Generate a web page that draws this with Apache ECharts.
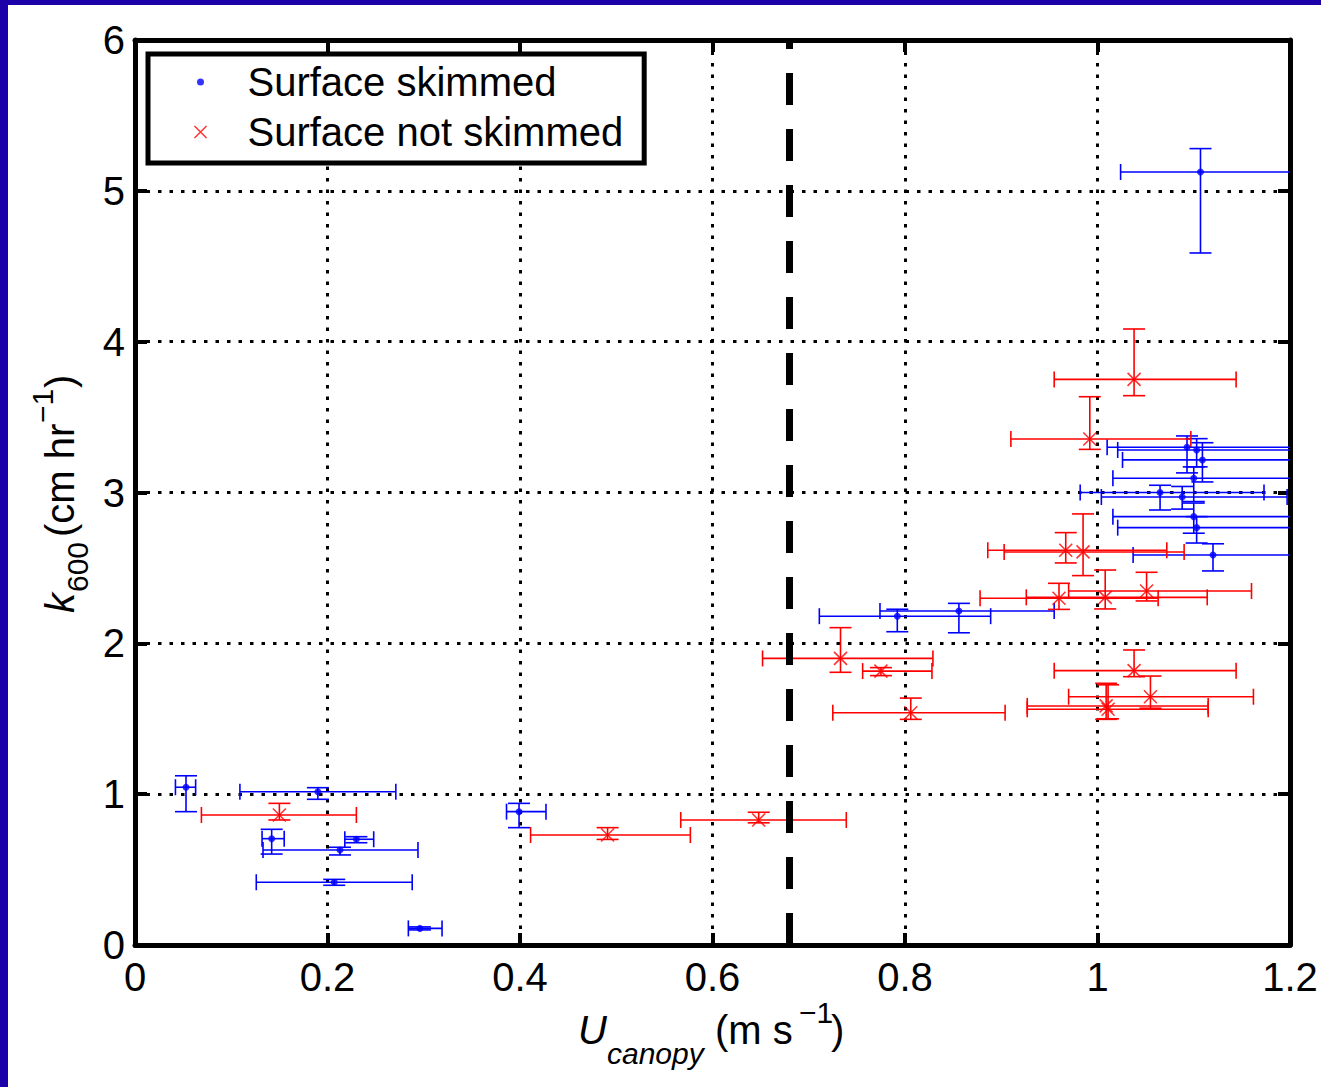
<!DOCTYPE html>
<html>
<head>
<meta charset="utf-8">
<script src="https://cdn.jsdelivr.net/npm/echarts@6/dist/echarts.min.js"></script>
<style>
html,body{margin:0;padding:0;background:#fff;}
#chart{width:1321px;height:1087px;}
</style>
</head>
<body>
<div id="chart"></div>
<script>
// ---- Data ----
const xTickLabels = ['0', '0.2', '0.4', '0.6', '0.8', '1', '1.2'];
const yTickLabels = ['0', '1', '2', '3', '4', '5', '6'];

// Surface skimmed (blue)
const skimU   = [0.053, 0.190, 0.142, 0.230, 0.213, 0.207, 0.296, 0.399, 0.792, 0.856, 1.093, 1.103, 1.109, 1.100, 1.065, 1.088, 1.100, 1.103, 1.120, 1.107];
const skimK   = [1.046, 1.016, 0.705, 0.701, 0.630, 0.416, 0.110, 0.884, 2.180, 2.214, 3.300, 3.282, 3.216, 3.094, 3.000, 2.970, 2.840, 2.767, 2.586, 5.125];
const skimUlo = [0.042, 0.109, 0.132, 0.218, 0.133, 0.126, 0.284, 0.386, 0.711, 0.774, 1.010, 1.021, 1.026, 1.016, 0.982, 1.004, 1.016, 1.021, 1.037, 1.024];
const skimUhi = [0.063, 0.271, 0.155, 0.248, 0.294, 0.288, 0.319, 0.427, 0.889, 0.955, 1.300, 1.300, 1.300, 1.300, 1.173, 1.197, 1.300, 1.300, 1.300, 1.300];
const skimKlo = [0.884, 0.966, 0.603, 0.678, 0.597, 0.396, 0.100, 0.778, 2.077, 2.070, 3.130, 3.170, 3.070, 2.940, 2.884, 2.890, 2.730, 2.665, 2.480, 4.588];
const skimKhi = [1.122, 1.043, 0.767, 0.718, 0.648, 0.435, 0.120, 0.939, 2.226, 2.265, 3.375, 3.357, 3.330, 3.170, 3.048, 3.040, 2.930, 2.840, 2.660, 5.280];

// Surface not skimmed (red)
const notU   = [0.150, 0.491, 0.648, 0.733, 0.775, 0.806, 1.038, 1.055, 1.009, 1.011, 0.960, 1.008, 1.051, 0.967, 0.985, 0.992, 1.038];
const notK   = [0.862, 0.729, 0.829, 1.900, 1.816, 1.540, 1.819, 1.646, 1.585, 1.563, 2.299, 2.305, 2.347, 2.617, 2.606, 3.355, 3.750];
const notUlo = [0.069, 0.411, 0.567, 0.652, 0.756, 0.725, 0.955, 0.970, 0.927, 0.927, 0.878, 0.926, 0.970, 0.886, 0.903, 0.910, 0.955];
const notUhi = [0.230, 0.577, 0.739, 0.829, 0.828, 0.904, 1.144, 1.162, 1.115, 1.115, 1.063, 1.114, 1.160, 1.072, 1.090, 1.097, 1.144];
const notKlo = [0.829, 0.700, 0.810, 1.808, 1.786, 1.496, 1.779, 1.570, 1.496, 1.500, 2.225, 2.228, 2.281, 2.533, 2.449, 3.286, 3.642];
const notKhi = [0.939, 0.778, 0.880, 2.104, 1.839, 1.637, 1.956, 1.783, 1.735, 1.725, 2.398, 2.486, 2.471, 2.734, 2.858, 3.635, 4.084];

// Threshold (vertical dashed line)
const thresholdU = 0.684;

// ---- Build ----
const FONT = "'Liberation Sans', Arial, Helvetica, sans-serif";
const BLUE = '#0000ff', RED = '#ff0000';

function rows(u, k, ulo, uhi, klo, khi) {
  return u.map((v, i) => [v, k[i], ulo[i], uhi[i], klo[i], khi[i]]);
}
const skimRows = rows(skimU, skimK, skimUlo, skimUhi, skimKlo, skimKhi);
const notRows = rows(notU, notK, notUlo, notUhi, notKlo, notKhi);

function errRenderer(color) {
  return function (params, api) {
    const u = api.value(0), k = api.value(1);
    const a = api.coord([api.value(2), k]);
    const b = api.coord([api.value(3), k]);
    const c = api.coord([u, api.value(4)]);
    const d = api.coord([u, api.value(5)]);
    const cw = 11, ch = 8;
    const st = { stroke: color, lineWidth: 1.6, fill: null };
    const L = (x1, y1, x2, y2) => ({ type: 'line', shape: { x1, y1, x2, y2 }, style: st });
    return {
      type: 'group',
      children: [
        L(a[0], a[1], b[0], b[1]),
        L(a[0], a[1] - ch, a[0], a[1] + ch),
        L(b[0], b[1] - ch, b[0], b[1] + ch),
        L(c[0], c[1], d[0], d[1]),
        L(c[0] - cw, c[1], c[0] + cw, c[1]),
        L(d[0] - cw, d[1], d[0] + cw, d[1])
      ]
    };
  };
}

const axisLineStyle = { show: true, onZero: false, lineStyle: { color: '#000', width: 5 } };
const tickStyle = { show: true, inside: true, length: 12, lineStyle: { color: '#000', width: 4 } };
const gridDots = { show: true, lineStyle: { color: '#000', width: 3, type: [3.5, 8] } };

const chart = echarts.init(document.getElementById('chart'), null, { renderer: 'svg', width: 1321, height: 1087 });

const xLabelY = 1044, supY = 1023, subY = 1064;
function mid(baseline, size) { return baseline - 0.35 * size; }

const option = {
  backgroundColor: '#fff',
  animation: false,
  grid: { left: 135, top: 40, right: 31, bottom: 142, containLabel: false },
  xAxis: [
    {
      type: 'value', min: 0, max: 1.2, interval: 0.2, position: 'bottom',
      axisLine: axisLineStyle, axisTick: tickStyle,
      axisLabel: { fontSize: 40, color: '#000', fontFamily: FONT, margin: 12,
        formatter: (v, i) => xTickLabels[Math.round(v / 0.2)] },
      splitLine: gridDots
    },
    {
      type: 'value', min: 0, max: 1.2, interval: 0.2, position: 'top',
      axisLine: axisLineStyle, axisTick: tickStyle,
      axisLabel: { show: false }, splitLine: { show: false }
    }
  ],
  yAxis: [
    {
      type: 'value', min: 0, max: 6, interval: 1, position: 'left',
      axisLine: axisLineStyle, axisTick: tickStyle,
      axisLabel: { fontSize: 40, color: '#000', fontFamily: FONT, margin: 10,
        formatter: (v) => yTickLabels[Math.round(v)] },
      splitLine: gridDots
    },
    {
      type: 'value', min: 0, max: 6, interval: 1, position: 'right',
      axisLine: axisLineStyle, axisTick: tickStyle,
      axisLabel: { show: false }, splitLine: { show: false }
    }
  ],
  legend: {
    orient: 'vertical', left: 148, top: 54,
    backgroundColor: '#fff', borderColor: '#000', borderWidth: 5, borderRadius: 0,
    padding: [8, 21, 11, 40], itemGap: 10,
    itemWidth: 84, itemHeight: 20,
    textStyle: { fontSize: 40, color: '#000', fontFamily: FONT },
    z: 10,
    data: [
      { name: 'Surface skimmed',
        icon: 'path://M0,0M20,20M13.5,10A3.5,3.5,0,1,1,6.5,10A3.5,3.5,0,1,1,13.5,10Z',
        itemStyle: { color: BLUE, borderWidth: 0 } },
      { name: 'Surface not skimmed',
        icon: 'path://M0,0M20,20M4,4L16,16M16,4L4,16',
        itemStyle: { color: 'none', borderColor: RED, borderWidth: 1.5 } }
    ]
  },
  series: [
    {
      name: 'skimErr', type: 'custom', renderItem: errRenderer(BLUE), data: skimRows,
      encode: { x: 0, y: 1 }, clip: true, silent: true, z: 2
    },
    {
      name: 'notErr', type: 'custom', renderItem: errRenderer(RED), data: notRows,
      encode: { x: 0, y: 1 }, clip: true, silent: true, z: 2
    },
    {
      name: 'Surface skimmed', type: 'scatter', data: skimRows.map(r => [r[0], r[1]]),
      symbol: 'circle', symbolSize: 7, itemStyle: { color: BLUE }, z: 4,
      markLine: {
        silent: true, symbol: 'none', label: { show: false }, animation: false,
        lineStyle: { color: '#000', width: 7, type: [32, 24] },
        emphasis: { disabled: true },
        data: [{ xAxis: thresholdU }]
      }
    },
    {
      name: 'Surface not skimmed', type: 'scatter', data: notRows.map(r => [r[0], r[1]]),
      symbol: 'path://M0,0L10,10M10,0L0,10', symbolSize: 13,
      itemStyle: { color: 'none', borderColor: RED, borderWidth: 1.6 }, z: 4
    }
  ],
  graphic: [
    { type: 'rect', x: 0, y: 0, shape: { width: 1321, height: 5 }, style: { fill: '#1c01a8' }, silent: true },
    { type: 'rect', x: 0, y: 0, shape: { width: 8, height: 1087 }, style: { fill: '#1c01a8' }, silent: true },
    // x-axis title: U_canopy (m s^-1)
    { type: 'text', x: 578, y: mid(xLabelY, 40), style: { text: 'U', font: 'italic 40px ' + FONT, fill: '#000', align: 'left', verticalAlign: 'middle' } },
    { type: 'text', x: 607, y: mid(subY, 30), style: { text: 'canopy', font: 'italic 30px ' + FONT, fill: '#000', align: 'left', verticalAlign: 'middle' } },
    { type: 'text', x: 715, y: mid(xLabelY, 40), style: { text: '(m s', font: '40px ' + FONT, fill: '#000', align: 'left', verticalAlign: 'middle' } },
    { type: 'text', x: 799, y: mid(supY, 30), style: { text: '\u22121', font: '30px ' + FONT, fill: '#000', align: 'left', verticalAlign: 'middle' } },
    { type: 'text', x: 831, y: mid(xLabelY, 40), style: { text: ')', font: '40px ' + FONT, fill: '#000', align: 'left', verticalAlign: 'middle' } },
    // y-axis title: k_600 (cm hr^-1), rotated
    {
      type: 'group', x: 74, y: 613, rotation: Math.PI / 2,
      children: [
        { type: 'text', x: 0, y: mid(0, 40), style: { text: 'k', font: 'italic 40px ' + FONT, fill: '#000', align: 'left', verticalAlign: 'middle' } },
        { type: 'text', x: 21, y: mid(14, 30), style: { text: '600', font: '30px ' + FONT, fill: '#000', align: 'left', verticalAlign: 'middle' } },
        { type: 'text', x: 76, y: mid(0, 40), style: { text: '(cm hr', font: '40px ' + FONT, fill: '#000', align: 'left', verticalAlign: 'middle' } },
        { type: 'text', x: 190, y: mid(-21, 30), style: { text: '\u22121', font: '30px ' + FONT, fill: '#000', align: 'left', verticalAlign: 'middle' } },
        { type: 'text', x: 225, y: mid(0, 40), style: { text: ')', font: '40px ' + FONT, fill: '#000', align: 'left', verticalAlign: 'middle' } }
      ]
    }
  ]
};
chart.setOption(option);
</script>
</body>
</html>
